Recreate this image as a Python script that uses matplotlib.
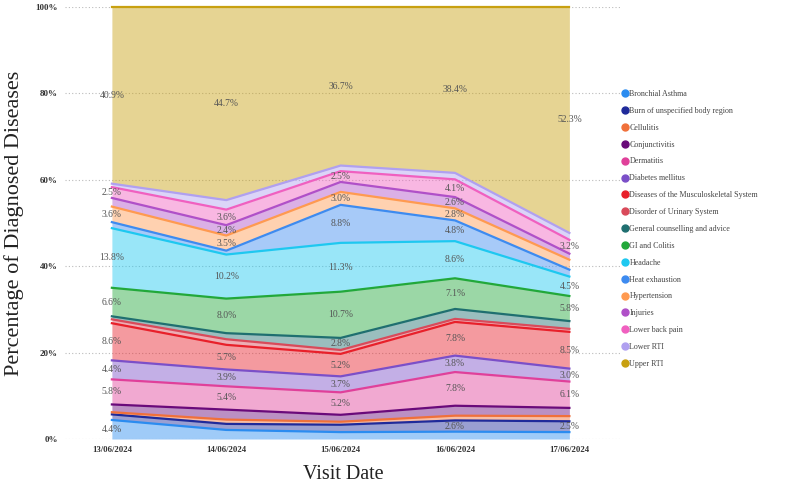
import matplotlib
matplotlib.use("Agg")
import matplotlib.pyplot as plt
from matplotlib.lines import Line2D
import numpy as np

# visit dates on the x axis
dates = ["13/06/2024", "14/06/2024", "15/06/2024", "16/06/2024", "17/06/2024"]

# share of diagnoses per visit date (percent), bottom of the stack first
bronchial_asthma = [4.4, 2.1, 1.6, 1.7, 1.6]
burn = [1.3, 1.4, 1.7, 2.6, 2.5]
cellulitis = [0.5, 1.0, 0.7, 1.1, 1.2]
conjunctivitis = [1.8, 2.3, 1.6, 2.3, 1.9]
dermatitis = [5.8, 5.4, 5.2, 7.8, 6.1]
diabetes = [4.4, 3.9, 3.7, 3.8, 3.0]
musculoskeletal = [8.6, 5.7, 5.2, 7.8, 8.5]
urinary = [0.9, 1.3, 0.9, 0.7, 0.7]
counselling = [0.7, 1.4, 2.8, 2.3, 1.8]
gi_colitis = [6.6, 8.0, 10.7, 7.1, 5.8]
headache = [13.8, 10.2, 11.3, 8.6, 4.5]
heat_exhaustion = [1.4, 0.9, 8.8, 4.8, 1.6]
hypertension = [3.6, 3.5, 3.0, 2.8, 2.3]
injuries = [2.0, 2.4, 2.3, 2.6, 1.4]
lower_back_pain = [2.5, 3.6, 2.5, 4.1, 3.2]
lower_rti = [0.8, 2.2, 1.3, 1.5, 1.6]
upper_rti = [40.9, 44.7, 36.7, 38.4, 52.3]

names = ["Bronchial Asthma", "Burn of unspecified body region", "Cellulitis",
         "Conjunctivitis", "Dermatitis", "Diabetes mellitus",
         "Diseases of the Musculoskeletal System", "Disorder of Urinary System",
         "General counselling and advice", "GI and Colitis", "Headache",
         "Heat exhaustion", "Hypertension", "Injuries", "Lower back pain",
         "Lower RTI", "Upper RTI"]
colors = ["#2B8CF0", "#1F2A9A", "#F0703A", "#6A0A7A", "#E0409A", "#7B4FC8",
          "#E8202A", "#D94A5A", "#1F6F70", "#22A83A", "#1EC8F0", "#3D8BF0",
          "#FF9A50", "#B050C8", "#F060C0", "#B0A0F0", "#C8A010"]

series = np.array([bronchial_asthma, burn, cellulitis, conjunctivitis, dermatitis,
                   diabetes, musculoskeletal, urinary, counselling, gi_colitis,
                   headache, heat_exhaustion, hypertension, injuries,
                   lower_back_pain, lower_rti, upper_rti])

plt.rcParams['font.family'] = ['Liberation Serif', 'DejaVu Serif']

fig = plt.figure(figsize=(8, 4.91), dpi=100)
ax = fig.add_axes([65 / 800, 1 - 439 / 491, 557 / 800, 432 / 491])

x = np.arange(len(dates))
tops = np.cumsum(series, axis=0)
bottoms = tops - series

# filled areas with a solid line on top of every band
for i in range(len(names)):
    ax.fill_between(x, bottoms[i], tops[i], color=colors[i], alpha=0.45, lw=0, zorder=2)
    ax.plot(x, tops[i], color=colors[i], lw=1.6, zorder=3, clip_on=False)

# value labels, only the bigger bands get one
for i in range(len(names)):
    for j in range(len(dates)):
        if series[i, j] >= 2.4:
            ax.text(x[j], bottoms[i, j] + series[i, j] / 2, f"{series[i, j]:.1f}%",
                    ha="center", va="center", fontsize=6.9, color="#555555", zorder=4)

ax.set_xlim(-0.41, 4.46)
ax.set_ylim(0, 100)
ax.set_xticks(x)
ax.set_xticklabels(dates, fontsize=6.3, fontweight="bold", color="#333333")
ax.set_yticks(np.arange(0, 101, 20))
ax.set_yticklabels([f"{v}%" for v in range(0, 101, 20)], fontsize=6.5,
                   fontweight="bold", color="#333333")
ax.tick_params(length=0, pad=5)
ax.grid(axis="y", linestyle=(0, (1, 2)), color="#BBBBBB", lw=0.8, zorder=0)
for s in ax.spines.values():
    s.set_visible(False)

ax.set_xlabel("Visit Date", fontsize=14.5, color="#222222", labelpad=8)
ax.set_ylabel("Percentage of Diagnosed Diseases", fontsize=16, color="#222222")
ax.yaxis.set_label_coords(-0.074, 0.5)

handles = [Line2D([], [], marker="o", ls="", markersize=5, color=c) for c in colors]
fig.legend(handles, names, loc="upper left", bbox_to_anchor=(617 / 800, 1 - 86 / 491),
           frameon=False, fontsize=5.8, labelspacing=1.1, handletextpad=0.05,
           handlelength=1.0, borderpad=0, labelcolor="#444444")

fig.savefig("out.png", dpi=100)
